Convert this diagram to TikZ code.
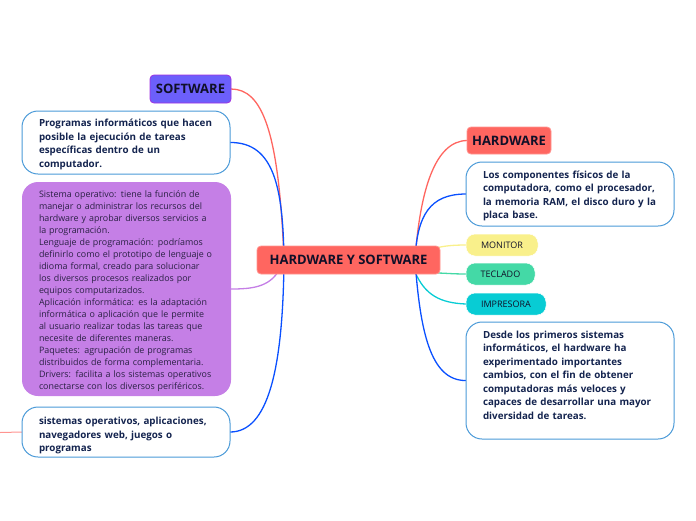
\documentclass[tikz,border=0pt]{standalone}
\usepackage{fontspec}
\setmainfont{Open Sans}
\usetikzlibrary{backgrounds}
\definecolor{cRoot}{HTML}{FF6660}
\definecolor{cSoft}{HTML}{6C5FFB}
\definecolor{cSoftB}{HTML}{A030E0}
\definecolor{cPurple}{HTML}{C57FE6}
\definecolor{cEdge}{HTML}{4A9AD8}
\definecolor{cNavy}{HTML}{14244F}
\definecolor{cBlue}{HTML}{0A50FF}
\definecolor{cYel}{HTML}{F9F08B}
\definecolor{cGrn}{HTML}{44D9A6}
\definecolor{cCyan}{HTML}{08CCD4}
\definecolor{cDark}{HTML}{101028}
\tikzset{
  x=1pt,y=-1pt,
  boxsize/.style 2 args={minimum width=#1pt,minimum height=#2pt},
  boxbase/.style={shape=rectangle,anchor=north west,inner sep=0pt,outer sep=0pt},
  toprule/.style={execute at begin node={\rule{0pt}{#1pt}}},
  topic/.style={boxbase,fill=cRoot,draw=cRoot!70!white,line width=.8pt,rounded corners=4pt,text=cDark,
     font=\fontsize{13}{15}\selectfont\bfseries,align=center},
  notebox/.style={boxbase,fill=white,draw=cEdge,line width=1pt,rounded corners=16pt,text=cNavy,
     font=\fontsize{9.8}{13.5}\selectfont\bfseries,align=left},
  pill/.style={boxbase,draw=white,line width=.5pt,rounded corners=9pt,text=cDark,
     font=\fontsize{9}{11}\selectfont,align=center},
  link/.style={line width=1.3pt},
}
\begin{document}
\begin{tikzpicture}
\useasboundingbox (0,0) rectangle (696,520);
\node[topic,boxsize={183}{28}] (main) at (257,246) {HARDWARE Y SOFTWARE};
\node[topic,fill=cSoft,draw=cSoftB,boxsize={81}{28}] (soft) at (150,75) {SOFTWARE};
\node[topic,boxsize={84}{27}] (hard) at (467,127) {HARDWARE};
\node[notebox,toprule=11.5,boxsize={208}{63},text width=174pt] (prog) at (22,111) {Programas informáticos que hacen\\posible la ejecución de tareas\\específicas dentro de un\\computador.};
\node[boxbase,toprule=10.5,fill=cPurple,rounded corners=16pt,text=cDark!85!cPurple,
  font=\fontsize{8.9}{12}\selectfont,align=left,boxsize={209}{214},text width=175pt] (sys) at (22,182) {Sistema operativo: tiene la función de\\manejar o administrar los recursos del\\hardware y aprobar diversos servicios a\\la programación.\\Lenguaje de programación: podríamos\\definirlo como el prototipo de lenguaje o\\idioma formal, creado para solucionar\\los diversos procesos realizados por\\equipos computarizados.\\Aplicación informática: es la adaptación\\informática o aplicación que le permite\\al usuario realizar todas las tareas que\\necesite de diferentes maneras.\\Paquetes: agrupación de programas\\distribuidos de forma complementaria.\\Drivers: facilita a los sistemas operativos\\conectarse con los diversos periféricos.};
\node[notebox,toprule=15,boxsize={208}{50},text width=174pt] (apps) at (22,407) {sistemas operativos, aplicaciones,\\navegadores web, juegos o\\programas};
\node[notebox,toprule=11.5,boxsize={208}{64},text width=174pt] (comp) at (466,162) {Los componentes físicos de la\\computadora, como el procesador,\\la memoria RAM, el disco duro y la\\placa base.};
\node[pill,fill=cYel,boxsize={72}{22}] (mon) at (466,234) {MONITOR};
\node[pill,fill=cGrn,boxsize={69}{22}] (tec) at (466,263) {TECLADO};
\node[pill,fill=cCyan,boxsize={80}{22}] (imp) at (466,293) {IMPRESORA};
\node[notebox,boxsize={208}{117},text width=174pt] (desde) at (466,322) {Desde los primeros sistemas\\informáticos, el hardware ha\\experimentado importantes\\cambios, con el fin de obtener\\computadoras más veloces y\\capaces de desarrollar una mayor\\diversidad de tareas.\rule[-11pt]{0pt}{11pt}};
\coordinate (hubL) at (284,260);
\coordinate (hubR) at (415,260);
\coordinate (hubP) at (278,272);
\coordinate (hubM) at (436,248);
\coordinate (hubT) at (436,273);
\coordinate (hubI) at (415,272);
\coordinate (offL) at (0,432.5);
\begin{scope}[on background layer]
\draw[link,cRoot] (soft.east) .. controls (262,89) and (279,130) .. (hubL);
\draw[link,cBlue] (prog.east) .. controls (275,142) and (283,190) .. (hubL);
\draw[link,cBlue] (apps.east) .. controls (268,432) and (283,370) .. (hubL);
\draw[link,cPurple] (sys.east) .. controls (252,289) and (268,287) .. (hubP);
\draw[link,cRoot] (hard.west) .. controls (435,141) and (420,190) .. (hubR);
\draw[link,cBlue] (comp.west) .. controls (430,194) and (417,215) .. (hubR);
\draw[link,cYel] (mon.west) .. controls (452,245) and (444,246) .. (hubM);
\draw[link,cGrn] (tec.west) .. controls (452,274) and (444,273) .. (hubT);
\draw[link,cCyan] (imp.west) .. controls (440,303) and (425,295) .. (hubI);
\draw[link,cBlue] (desde.west) .. controls (430,381) and (420,330) .. (hubR);
\draw[line width=1pt,cRoot!70!white] (offL) -- (apps.west);
\end{scope}
\end{tikzpicture}
\end{document}
